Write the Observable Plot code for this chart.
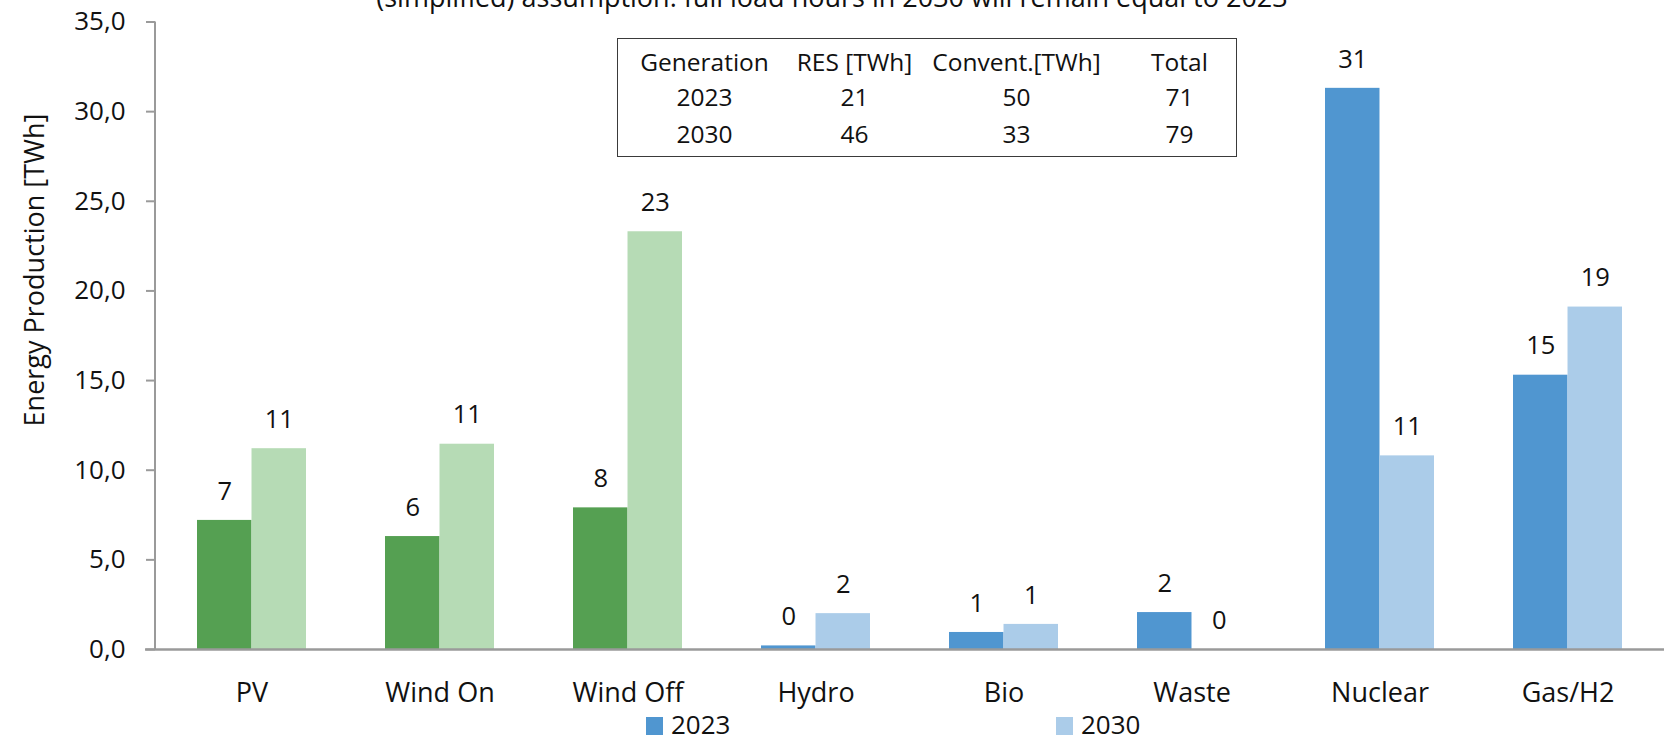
<!DOCTYPE html>
<html>
<head>
<meta charset="utf-8">
<script src="https://cdn.jsdelivr.net/npm/d3@7"></script>
<script src="https://cdn.jsdelivr.net/npm/@observablehq/plot@0.6"></script>
<style>
  html, body { margin: 0; padding: 0; background: #fff; overflow: hidden; }
  #wrap { position: relative; width: 1668px; height: 738px; font-family: "Open Sans", "Noto Sans", sans-serif; color: #111; }
  #wrap svg { position: absolute; left: 0; top: 0; }
  .abs { position: absolute; white-space: nowrap; line-height: 1; }
  .center { transform: translate(-50%, -50%); }
  #title { font-size: 27px; }
  #ytitle { font-size: 27px; transform: translate(-50%, -50%) rotate(-90deg); }
  #table { position: absolute; border: 1.5px solid #3a3a3a; box-sizing: border-box; background: #fff; }
  .cell { font-size: 24.5px; }
  .legsq { position: absolute; }
  .legtx { font-size: 26px; }
</style>
</head>
<body>
<div id="wrap"></div>
<script>
// ---------- data ----------
const categories = ["PV", "Wind On", "Wind Off", "Hydro", "Bio", "Waste", "Nuclear", "Gas/H2"];
const values2023 = [7.2, 6.3, 7.9, 0.2, 0.95, 2.06, 31.3, 15.3];
const values2030 = [11.2, 11.45, 23.3, 2.0, 1.4, 0.0, 10.8, 19.1];
const colors2023 = ["#55a052", "#55a052", "#55a052", "#5096d0", "#5096d0", "#5096d0", "#5096d0", "#5096d0"];
const colors2030 = ["#b6dbb5", "#b6dbb5", "#b6dbb5", "#abcce9", "#abcce9", "#abcce9", "#abcce9", "#abcce9"];
const yTicks = [0, 5, 10, 15, 20, 25, 30, 35];
const seriesNames = ["2023", "2030"];
const legendColors = ["#5096d0", "#abcce9"];
const titleText = "(simplified) assumption: full load hours in 2030 will remain equal to 2023";
const yTitleText = "Energy Production [TWh]";
const tableHeader = ["Generation", "RES [TWh]", "Convent.[TWh]", "Total"];
const tableYears = ["2023", "2030"];
const tableRES = [21, 46];
const tableConv = [50, 33];
const tableTotal = [71, 79];

// ---------- layout ----------
const W = 1668, H = 712;
const mL = 155, mR = 4, mT = 21.5, mB = H - 649;
const pInner = 0.422;
const step = (W - mL - mR) / categories.length;
const bw = step * (1 - pInner);

const rows23 = categories.map((c, i) => ({category: c, year: seriesNames[0], value: values2023[i], color: colors2023[i]}));
const rows30 = categories.map((c, i) => ({category: c, year: seriesNames[1], value: values2030[i], color: colors2030[i]}));

const fmtVal = d3.format(".0f");
const fmtTick = d => d.toFixed(1).replace(".", ",");

function yAxisLine(index, scales, values, dims) {
  const x = dims.marginLeft;
  return d3.create("svg:line")
    .attr("x1", x).attr("x2", x)
    .attr("y1", scales.y(0) + 1).attr("y2", scales.y(35))
    .attr("stroke", "#9a9a9a").attr("stroke-width", 2)
    .node();
}

const chart = Plot.plot({
  width: W, height: H,
  marginLeft: mL, marginRight: mR, marginTop: mT, marginBottom: mB,
  style: {fontFamily: '"Open Sans", "Noto Sans", sans-serif', fontSize: "26px", color: "#111", background: "transparent", overflow: "visible"},
  x: {domain: categories, paddingInner: pInner, paddingOuter: pInner / 2, label: null},
  y: {domain: [0, 35], label: null},
  color: {type: "identity"},
  marks: [
    Plot.barY(rows23, {x: "category", y: "value", fill: "color", insetLeft: 0, insetRight: bw / 2}),
    Plot.barY(rows30, {x: "category", y: "value", fill: "color", insetLeft: bw / 2, insetRight: 0}),
    Plot.ruleY([0], {stroke: "#9a9a9a", strokeWidth: 2.5, insetLeft: -10}),
    yAxisLine,
    Plot.axisY({ticks: yTicks, tickFormat: fmtTick, tickSize: 9, tickPadding: 21, stroke: "#9a9a9a", strokeWidth: 2, fontSize: 26, label: null}),
    Plot.axisX({tickSize: 0, tickPadding: 33, fontSize: 27, label: null}),
    Plot.text(rows23, {x: "category", y: "value", text: d => fmtVal(d.value), dx: -bw / 4, dy: -29, fontSize: 25.5, lineAnchor: "middle", fill: "#111"}),
    Plot.text(rows30, {x: "category", y: "value", text: d => fmtVal(d.value), dx: bw / 4, dy: -29, fontSize: 25.5, lineAnchor: "middle", fill: "#111"})
  ]
});

const wrap = document.getElementById("wrap");
wrap.appendChild(chart);

// title (clipped at the top as in the original)
const title = document.createElement("div");
title.id = "title";
title.className = "abs";
title.textContent = titleText;
title.style.left = "832px";
title.style.top = "-4px";
title.style.transform = "translate(-50%, -50%)";
wrap.appendChild(title);

// y-axis title
const yt = document.createElement("div");
yt.id = "ytitle";
yt.className = "abs";
yt.textContent = yTitleText;
yt.style.left = "33px";
yt.style.top = "270px";
wrap.appendChild(yt);

// summary table box
const tb = document.createElement("div");
tb.id = "table";
const boxL = 617, boxT = 37.5, boxW = 620, boxH = 119;
tb.style.left = boxL + "px"; tb.style.top = boxT + "px";
tb.style.width = boxW + "px"; tb.style.height = boxH + "px";
wrap.appendChild(tb);
const colX = [705, 855, 1017, 1180];
const rowY = [62.5, 97.5, 134];
const tableRows = [tableHeader].concat(tableYears.map((y, i) => [y, String(tableRES[i]), String(tableConv[i]), String(tableTotal[i])]));
tableRows.forEach((row, r) => {
  row.forEach((txt, c) => {
    const s = document.createElement("div");
    s.className = "abs center cell";
    s.textContent = txt;
    s.style.left = (colX[c] - boxL - 1.5) + "px";
    s.style.top = (rowY[r] - boxT - 1.5) + "px";
    tb.appendChild(s);
  });
});

// legend (below the svg)
const legX = [646, 1056];
seriesNames.forEach((name, i) => {
  const sq = document.createElement("div");
  sq.className = "legsq";
  sq.style.left = legX[i] + "px"; sq.style.top = "717px";
  sq.style.width = "17px"; sq.style.height = "18px";
  sq.style.background = legendColors[i];
  wrap.appendChild(sq);
  const tx = document.createElement("div");
  tx.className = "abs legtx";
  tx.textContent = name;
  tx.style.left = (legX[i] + 25) + "px";
  tx.style.top = "724px";
  tx.style.transform = "translate(0, -50%)";
  wrap.appendChild(tx);
});
</script>
</body>
</html>
